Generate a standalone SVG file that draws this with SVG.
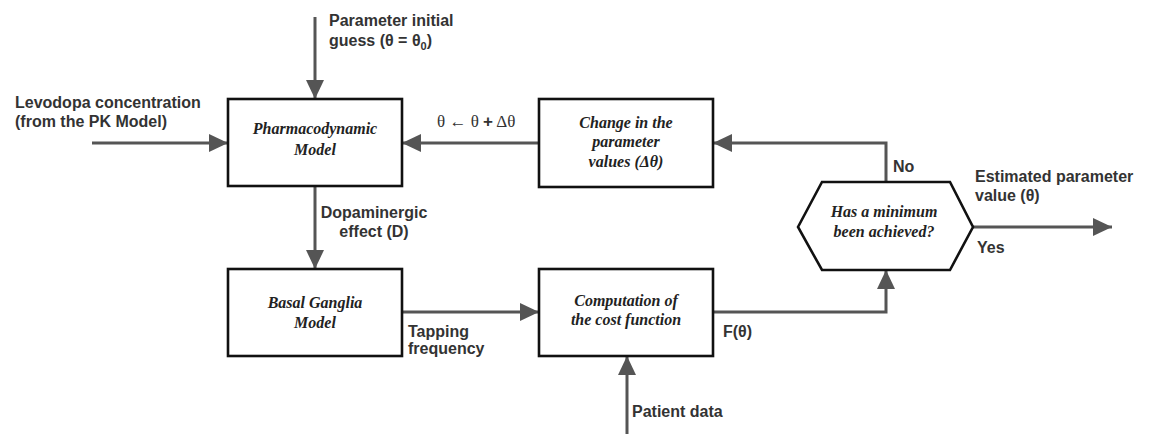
<svg xmlns="http://www.w3.org/2000/svg" width="1151" height="434" viewBox="0 0 1151 434">
<defs>
<style>
.box{fill:#fff;stroke:#111;stroke-width:2.6}
.bt{font-family:"Liberation Serif","Times New Roman",serif;font-style:italic;font-weight:bold;font-size:16px;fill:#222;text-anchor:middle}
.lbl{font-family:"Liberation Sans",Arial,sans-serif;font-weight:bold;font-size:16px;fill:#333}
.ln{fill:none;stroke:#555;stroke-width:3}
</style>
<marker id="ah" markerUnits="userSpaceOnUse" markerWidth="20" markerHeight="18" refX="19" refY="9" orient="auto">
<path d="M0,0 L19,9 L0,18 Z" fill="#555"/>
</marker>
</defs>
<rect width="1151" height="434" fill="#fff"/>
<g id="connectors">
<line class="ln" x1="315" y1="17" x2="315" y2="99" marker-end="url(#ah)"/>
<line class="ln" x1="92" y1="143" x2="228" y2="143" marker-end="url(#ah)"/>
<line class="ln" x1="539" y1="143" x2="402" y2="143" marker-end="url(#ah)"/>
<polyline class="ln" points="886,182 886,143 713,143" marker-end="url(#ah)"/>
<line class="ln" x1="315" y1="186" x2="315" y2="269" marker-end="url(#ah)"/>
<line class="ln" x1="402" y1="312" x2="539" y2="312" marker-end="url(#ah)"/>
<line class="ln" x1="627" y1="434" x2="627" y2="356" marker-end="url(#ah)"/>
<polyline class="ln" points="713,312 886,312 886,270" marker-end="url(#ah)"/>
<line class="ln" x1="973" y1="227" x2="1112" y2="227" marker-end="url(#ah)"/>
</g>
<g id="labels">
<text class="lbl" x="329" y="26">Parameter initial</text>
<text class="lbl" x="329" y="46">guess (θ = θ<tspan font-size="11" dy="4">0</tspan><tspan dy="-4">)</tspan></text>
<text class="lbl" x="15" y="108">Levodopa concentration</text>
<text class="lbl" x="15" y="127">(from the PK Model)</text>
<text x="437" y="127" font-family="Liberation Serif,'Times New Roman',serif" font-size="17" fill="#333">θ ←  θ <tspan font-family="Liberation Sans,Arial,sans-serif" font-weight="bold">+</tspan> Δθ</text>
<text class="lbl" x="374" y="218" text-anchor="middle">Dopaminergic</text>
<text class="lbl" x="374" y="237" text-anchor="middle">effect (D)</text>
<text class="lbl" x="408" y="337">Tapping</text>
<text class="lbl" x="408" y="354">frequency</text>
<text class="lbl" x="723" y="337">F(θ)</text>
<text class="lbl" x="632" y="417">Patient data</text>
<text class="lbl" x="893" y="172">No</text>
<text class="lbl" x="975" y="182">Estimated parameter</text>
<text class="lbl" x="975" y="201">value (θ)</text>
<text class="lbl" x="977" y="253">Yes</text>
</g>
<g id="pd">
<rect class="box" x="228" y="99" width="174" height="87"/>
<text class="bt" x="315" y="134">Pharmacodynamic</text>
<text class="bt" x="315" y="155">Model</text>
</g>
<g id="change">
<rect class="box" x="539" y="99" width="174" height="88"/>
<text class="bt" x="626" y="128">Change in the</text>
<text class="bt" x="626" y="147">parameter</text>
<text class="bt" x="626" y="167">values (Δθ)</text>
</g>
<g id="bg">
<rect class="box" x="228" y="269" width="174" height="87"/>
<text class="bt" x="315" y="308">Basal Ganglia</text>
<text class="bt" x="315" y="328">Model</text>
</g>
<g id="cost">
<rect class="box" x="539" y="269" width="174" height="87"/>
<text class="bt" x="626" y="306">Computation of</text>
<text class="bt" x="626" y="325">the cost function</text>
</g>
<g id="decision">
<polygon class="box" points="798,227 822,182 950,182 973,227 950,270 822,270"/>
<text class="bt" x="884" y="217">Has a minimum</text>
<text class="bt" x="884" y="237">been achieved?</text>
</g>
</svg>
